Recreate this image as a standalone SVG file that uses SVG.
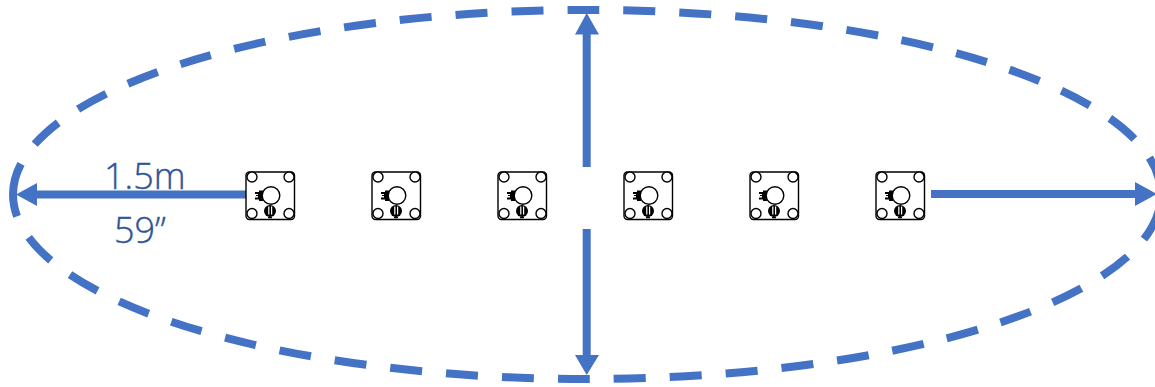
<svg xmlns="http://www.w3.org/2000/svg" width="1155" height="387" viewBox="0 0 1155 387">
<style>
.e{fill:none;stroke:#4472C4;stroke-width:8;stroke-dasharray:32 24}
.l{fill:none;stroke:#4472C4;stroke-width:8}
.h{fill:#4472C4}
.n{fill:#fff;stroke:#000;stroke-width:1.4}
.b{fill:#000}
.t{font-family:"Open Sans","Liberation Sans",sans-serif;font-weight:300;font-size:36px;fill:#2F5597;stroke:#2F5597;stroke-width:.4}
</style>
<defs>
<g id="sensor">
<rect class="n" x="246" y="172" width="48.500" height="47.500" rx="3.500"/>
<circle class="n" cx="252" cy="177" r="5"/>
<circle class="n" cx="289" cy="177" r="5"/>
<circle class="n" cx="252" cy="213.500" r="5"/>
<circle class="n" cx="289" cy="213.500" r="5"/>
<path class="b" d="M255 192h4v-1.500h4.500v10.500h-4.500v-1.500h-4v-2h3v-1.500h-2v-1h2v-1h-3z"/>
<rect class="b" x="263" y="191.500" width="3" height="1.500"/>
<rect class="b" x="263" y="198.500" width="3" height="1.500"/>
<ellipse class="b" cx="270" cy="211" rx="6" ry="6"/>
<path fill="none" stroke="#000" stroke-width="1.500" d="M268 217.500h4"/>
<rect x="268.200" y="206.500" width="1.200" height="8" fill="#fff"/>
<rect x="271" y="206.500" width="1.200" height="8" fill="#fff"/>
<circle class="n" cx="271" cy="195.500" r="8.800"/>
</g>
</defs>
<g id="connectors">
<path id="range" class="e" d="M13 194.500A574 184.500 0 0 1 1161 194.500A574 184.500 0 0 1 13 194.500Z"/>
<path class="l" d="M246 194.500H35"/><polygon class="h" points="16,194.500 37,183 37,206"/>
<path class="l" d="M931 194H1137"/><polygon class="h" points="1157,194 1135,182 1135,206"/>
<path class="l" d="M586.700 167V32"/><polygon class="h" points="586.700,13 575,34.500 599,34.500"/>
<path class="l" d="M586.700 229V357"/><polygon class="h" points="586.700,375 575,355 599,355"/>
</g>
<g id="node-1"><use href="#sensor"/></g>
<g id="node-2"><use href="#sensor" x="126"/></g>
<g id="node-3"><use href="#sensor" x="252"/></g>
<g id="node-4"><use href="#sensor" x="378"/></g>
<g id="node-5"><use href="#sensor" x="504"/></g>
<g id="node-6"><use href="#sensor" x="630"/></g>
<g id="labels">
<text class="t" x="104" y="189">1.5m</text>
<text class="t" x="114" y="243">59”</text>
</g>
</svg>
